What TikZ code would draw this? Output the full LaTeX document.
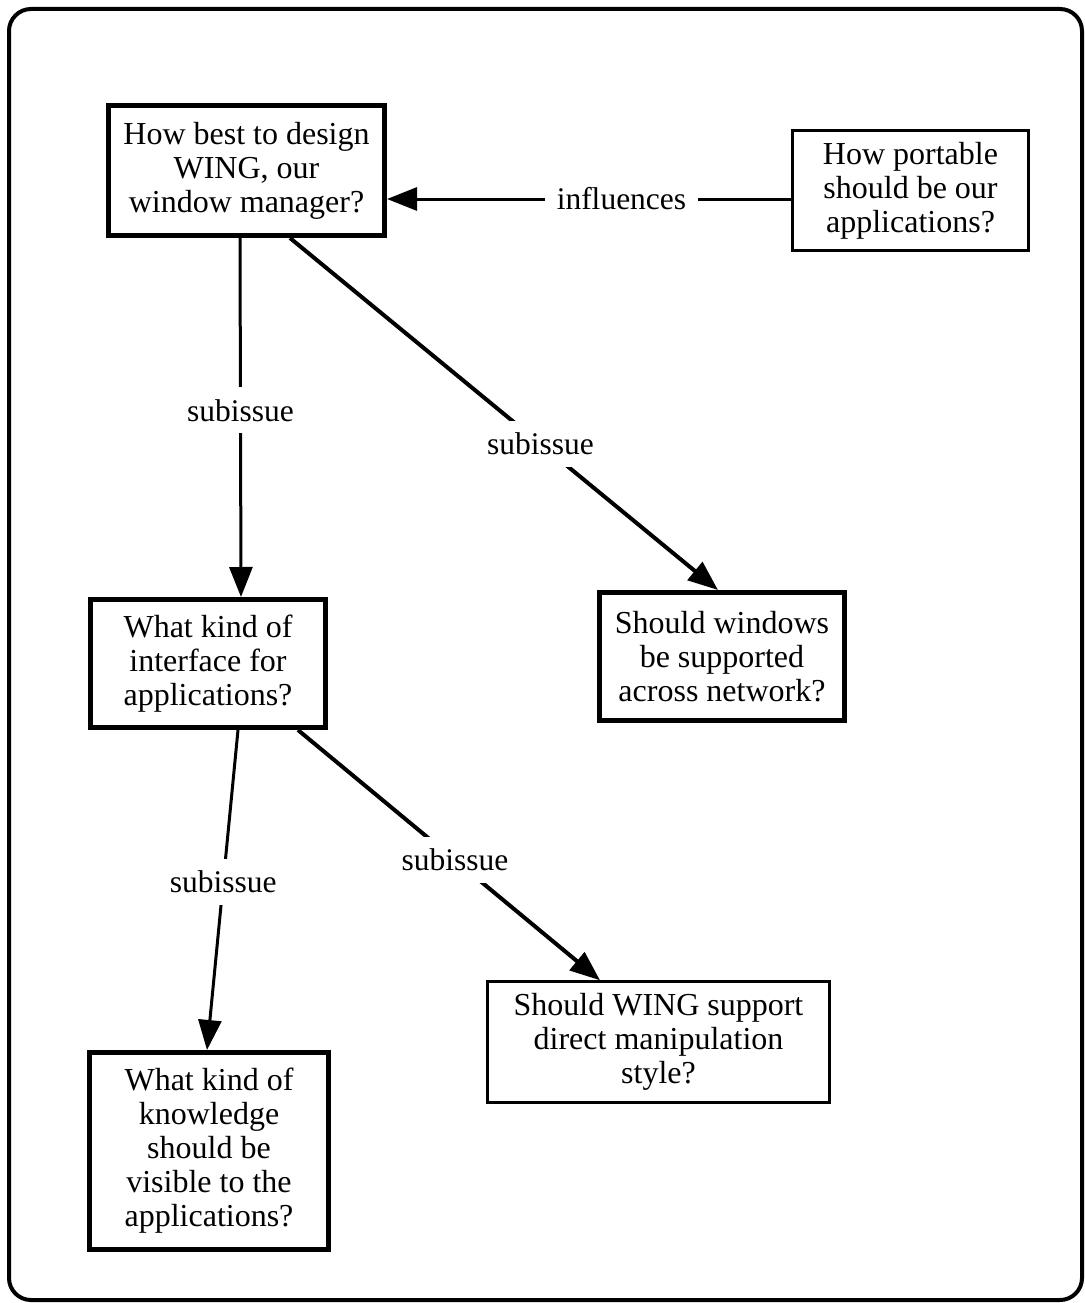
\documentclass[tikz,border=0pt]{standalone}
\usepackage{fontspec}
\setmainfont{Liberation Serif}
\usetikzlibrary{arrows.meta}
\begin{document}
\begin{tikzpicture}[x=1pt,y=-1pt,
  issue/.style={draw, line width=5pt, align=center, inner sep=0pt,
    font=\fontsize{32}{34}\selectfont},
  issuethin/.style={issue, line width=2.5pt},
  link/.style={line width=3pt, -{Triangle[length=30pt,width=23pt]}},
  boldlink/.style={link, line width=4pt},
  rel/.style={fill=white, inner sep=12pt, font=\fontsize{31.5}{34}\selectfont}]
\useasboundingbox (0,0) rectangle (1084,1303);
% frame
\draw[line width=4pt, rounded corners=22pt] (9,9) rectangle (1082,1300);
% issues
\node[issue, minimum width=276pt, minimum height=130pt] (A) at (246.5,170.5)
  {How best to design\\WING, our\\window manager?};
\node[issuethin, minimum width=236pt, minimum height=120pt] (B) at (910.5,190.5)
  {How portable\\should be our\\applications?};
\node[issue, minimum width=235pt, minimum height=128pt] (C) at (208,663.5)
  {What kind of\\interface for\\applications?};
\node[issue, minimum width=245pt, minimum height=128pt] (D) at (722,656.5)
  {Should windows\\be supported\\across network?};
\node[issuethin, minimum width=342pt, minimum height=121pt] (E) at (658.5,1042)
  {Should WING support\\direct manipulation\\style?};
\node[issue, minimum width=239pt, minimum height=197pt] (F) at (209,1151)
  {What kind of\\knowledge\\should be\\visible to the\\applications?};
% relations
\draw[link] ([yshift=-8.5pt]B.west) -- node[rel, pos=0.42] {influences} ([yshift=-28.5pt]A.east);
\draw[link] ([xshift=-6.5pt]A.south) -- node[rel, pos=0.48] {subissue} ([xshift=33pt]C.north);
\draw[boldlink] ([xshift=43.5pt]A.south) -- node[rel, pos=0.585] {subissue} ([xshift=-4pt]D.north);
\draw[link] ([xshift=30pt]C.south) -- node[rel, pos=0.475] {subissue} ([xshift=-2pt]F.north);
\draw[boldlink] ([xshift=90pt]C.south) -- node[rel, pos=0.52] {subissue} ([xshift=-58.5pt]E.north);
\end{tikzpicture}
\end{document}
